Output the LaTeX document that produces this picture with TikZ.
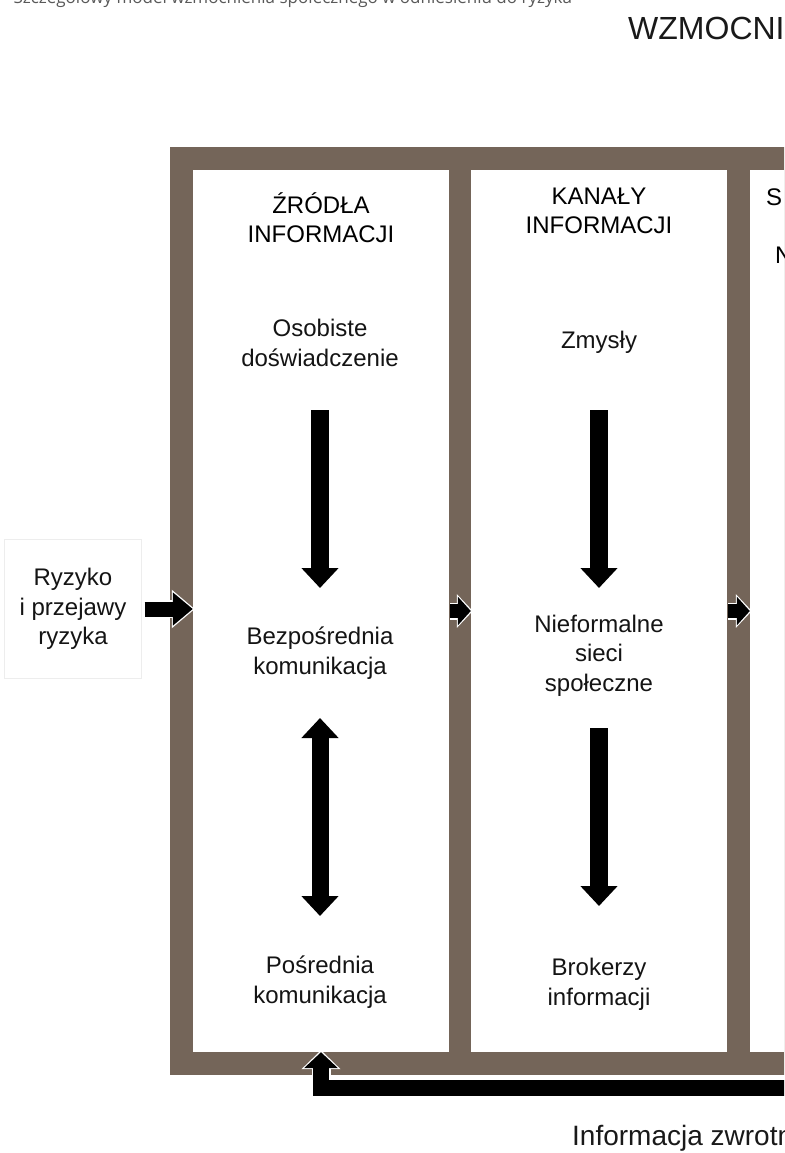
\documentclass[tikz,border=0pt]{standalone}
\usepackage{fontspec}
\setmainfont{Liberation Sans}
\newfontfamily\podpisfont{Open Sans}
\usetikzlibrary{positioning,arrows.meta}
\definecolor{ramka}{RGB}{116,101,89}
\tikzset{
  panel/.style={fill=white, minimum width=256pt, minimum height=882pt, inner sep=0pt},
  opis/.style={align=center, font=\fontsize{24}{29.5}\selectfont, text=black!92},
  naglowek/.style={align=center, font=\fontsize{24}{29}\selectfont, text=black},
  pion/.style={line width=18pt, -{Triangle[length=20pt,width=36pt]}},
  obie/.style={line width=17pt, {Triangle[length=20pt,width=36pt]}-{Triangle[length=20pt,width=36pt]}},
  przejscie/.style={line width=14pt, black, -{Triangle[length=13pt,width=28pt]},
    preaction={draw=white, line width=17pt, -{Triangle[length=16pt,width=33pt]}, shorten >=-2pt}},
  wejscie/.style={line width=15pt, black, -{Triangle[length=20pt,width=32pt]},
    preaction={draw=white, line width=18pt, -{Triangle[length=23pt,width=37pt]}, shorten >=-2pt}},
  zwrot/.style={line width=16pt, black, line join=miter, -{Triangle[length=16pt,width=33pt]},
    preaction={draw=white, line width=19pt, line join=miter, -{Triangle[length=19pt,width=38pt]}, shorten >=-2pt}}
}
\begin{document}
\begin{tikzpicture}[x=1pt,y=-1pt]
\useasboundingbox (0,0) rectangle (784,1153);
\clip (0,0) rectangle (784,1153);
\fill[white] (0,0) rectangle (784,1153);

\node[anchor=base west, text=black!65, font=\podpisfont\fontsize{17}{20}\selectfont] (podpis) at (10,4)
  {Szczegółowy model wzmocnienia społecznego w odniesieniu do ryzyka};
\node[anchor=west, inner sep=0pt, font=\fontsize{32}{36}\selectfont, text=black!90] (tytul) at (628,28) {WZMOCNIENIE};

\fill[ramka] (170,147) rectangle (820,1075);
\node[panel] (p1) at (321,611) {};
\node[panel] (p2) at (599,611) {};
\node[panel] (p3) at (878,611) {};

\node[naglowek] (zrodla) at (321,217.5) {ŹRÓDŁA\\INFORMACJI};
\node[opis] (osob) at (320,343) {Osobiste\\doświadczenie};
\node[opis] (bezp) at (320,653) {Bezpośrednia\\komunikacja};
\node[opis] (posr) at (320,982) {Pośrednia\\komunikacja};

\node[naglowek] (kanaly) at (599,210.5) {KANAŁY\\INFORMACJI};
\node[opis] (zmysly) at (599,342) {Zmysły};
\node[opis] (nieform) at (599,655.5) {Nieformalne\\sieci\\społeczne};
\node[opis] (brokerzy) at (599,984.5) {Brokerzy\\informacji};

\node[naglowek, anchor=west, inner sep=0pt] (stacje) at (766,197) {S};
\node[naglowek, anchor=west, inner sep=0pt] (nast) at (775,255) {N};

\node[opis, draw=black!7, minimum width=137pt, minimum height=139pt] (ryzyko) at (73,609) {Ryzyko\\i przejawy\\ryzyka};

\draw[pion, shorten <=67pt, shorten >=65pt] (osob.center) -- (bezp.center);
\draw[obie, shorten <=65pt, shorten >=66pt] (bezp.center) -- (posr.center);
\draw[pion, shorten <=68pt, shorten >=67.5pt] (zmysly.center) -- (nieform.center);
\draw[pion, shorten <=72.5pt, shorten >=78.5pt] (nieform.center) -- (brokerzy.center);

\draw[wejscie, shorten <=3pt] (ryzyko.east) -- (ryzyko.east -| p1.west);
\draw[przejscie, shorten <=1pt] (p1.east) -- (p2.west);
\draw[przejscie, shorten <=1pt] (p2.east) -- (p3.west);

\coordinate (zwrotP) at (800,1088);
\draw[zwrot] (zwrotP) -| (p1.south);
\node[anchor=west, inner sep=0pt, font=\fontsize{28}{32}\selectfont, text=black!90] (zwrotna) at (572,1138) {Informacja zwrotna};
\end{tikzpicture}
\end{document}
